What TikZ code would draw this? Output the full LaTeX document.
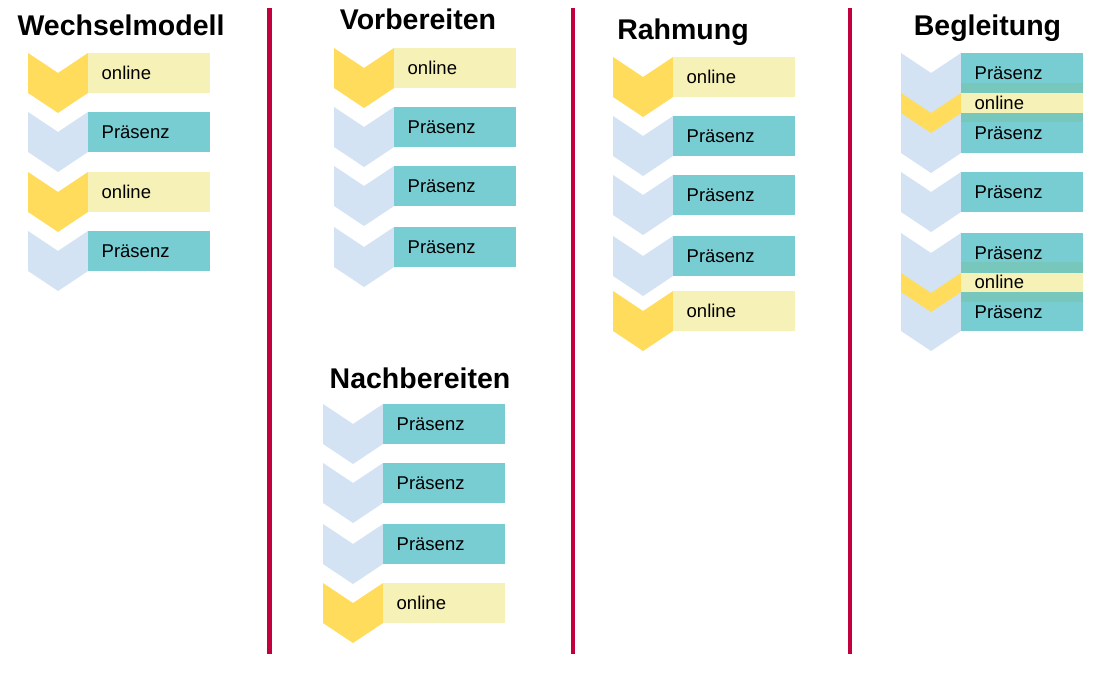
\documentclass[tikz,border=0pt]{standalone}
\usepackage{fontspec}
\setmainfont{Liberation Sans}
\definecolor{ydark}{HTML}{FFDC5C}
\definecolor{ylight}{HTML}{F6F1B6}
\definecolor{tealc}{HTML}{78CDD3}
\definecolor{bluel}{HTML}{D3E3F4}
\definecolor{bandc}{HTML}{77C7BD}
\definecolor{linec}{HTML}{C2003E}
\tikzset{
  boxbase/.style={anchor=north west, minimum height=40pt, inner ysep=0pt, inner xsep=13.5pt,
    text width=95pt, align=left, text height=13.2pt, text depth=0pt,
    font=\fontsize{18.5}{20}\selectfont},
  pra/.style={boxbase, fill=tealc},
  onl/.style={boxbase, fill=ylight},
  ttl/.style={anchor=base, font=\fontsize{28.5}{30}\bfseries\selectfont, inner sep=0pt},
  sep/.style={draw=linec, line width=4.5pt}
}
% chevron: x, ytop, side height, colour
\newcommand\chev[4]{\fill[#4] (#1,#2) -- ++(30,20) -- ++(30,-20) -- ++(0,#3) -- ++(-30,20) -- ++(-30,-20) -- cycle;}
\begin{document}
\begin{tikzpicture}[x=1pt,y=-1pt]
\useasboundingbox (0,0) rectangle (1111,676);
\fill[white] (0,0) rectangle (1111,676);
% separators
\coordinate (s1t) at (269.5,8); \coordinate (s1b) at (269.5,654);
\coordinate (s2t) at (573,8); \coordinate (s2b) at (573,654);
\coordinate (s3t) at (850,8); \coordinate (s3b) at (850,654);
\draw[sep] (s1t) -- (s1b);
\draw[sep] (s2t) -- (s2b);
\draw[sep] (s3t) -- (s3b);
% titles
\node[ttl] (t1) at (121,36) {Wechselmodell};
\node[ttl] (t2) at (418,30) {Vorbereiten};
\node[ttl] (t3) at (420,388) {Nachbereiten};
\node[ttl] (t4) at (683,40) {Rahmung};
\node[ttl] (t5) at (987.5,36) {Begleitung};
% Wechselmodell
\chev{28}{53}{40}{ydark}  \node[onl] (w1) at (88,53) {online};
\chev{28}{112}{40}{bluel} \node[pra] (w2) at (88,112) {Präsenz};
\chev{28}{172}{40}{ydark} \node[onl] (w3) at (88,172) {online};
\chev{28}{231}{40}{bluel} \node[pra] (w4) at (88,231) {Präsenz};
% Vorbereiten
\chev{334}{48}{40}{ydark}  \node[onl] (v1) at (394,48) {online};
\chev{334}{107}{40}{bluel} \node[pra] (v2) at (394,107) {Präsenz};
\chev{334}{166}{40}{bluel} \node[pra] (v3) at (394,166) {Präsenz};
\chev{334}{227}{40}{bluel} \node[pra] (v4) at (394,227) {Präsenz};
% Nachbereiten
\chev{323}{404}{40}{bluel} \node[pra] (n1) at (383,404) {Präsenz};
\chev{323}{463}{40}{bluel} \node[pra] (n2) at (383,463) {Präsenz};
\chev{323}{524}{40}{bluel} \node[pra] (n3) at (383,524) {Präsenz};
\chev{323}{583}{40}{ydark} \node[onl] (n4) at (383,583) {online};
% Rahmung
\chev{613}{57}{40}{ydark}  \node[onl] (r1) at (673,57) {online};
\chev{613}{116}{40}{bluel} \node[pra] (r2) at (673,116) {Präsenz};
\chev{613}{175}{40}{bluel} \node[pra] (r3) at (673,175) {Präsenz};
\chev{613}{236}{40}{bluel} \node[pra] (r4) at (673,236) {Präsenz};
\chev{613}{291}{40}{ydark} \node[onl] (r5) at (673,291) {online};
% Begleitung
\chev{901}{53}{100}{bluel}
\chev{901}{93}{20}{ydark}
\node[pra] (b1) at (961,53) {Präsenz};
\node[pra] (b3) at (961,113) {Präsenz};
\node[onl, minimum height=39pt] (b2) at (961,83) {online};
\fill[bandc] (b2.north west) rectangle (1083,93);
\fill[bandc] (961,113) rectangle (b2.south east);
\chev{901}{172}{40}{bluel} \node[pra] (b4) at (961,172) {Präsenz};
\chev{901}{233}{98}{bluel}
\chev{901}{273}{19}{ydark}
\node[pra] (b5) at (961,233) {Präsenz};
\node[pra, minimum height=39pt] (b7) at (961,292) {Präsenz};
\node[onl] (b6) at (961,262) {online};
\fill[bandc] (b6.north west) rectangle (1083,273);
\fill[bandc] (961,292) rectangle (b6.south east);
\end{tikzpicture}
\end{document}
